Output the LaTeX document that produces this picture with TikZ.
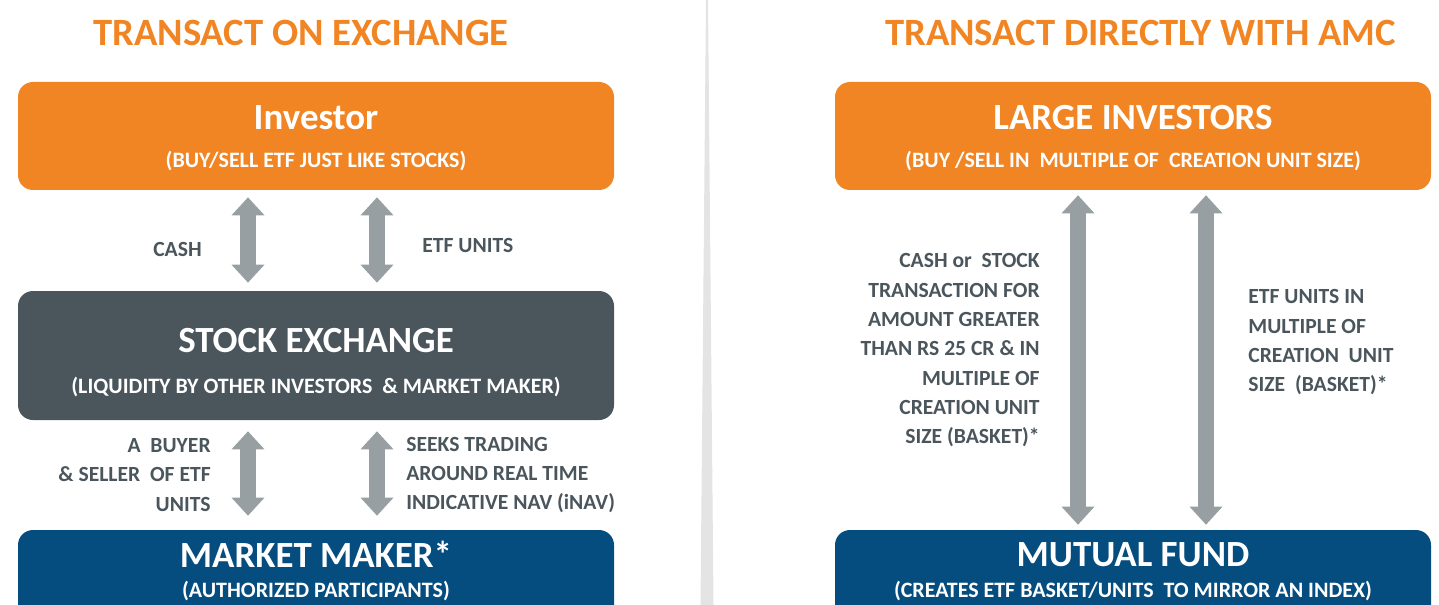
\documentclass[tikz,border=0pt]{standalone}
\usepackage{fontspec}
\setmainfont{Carlito}
\usetikzlibrary{arrows.meta,positioning}

\definecolor{etforange}{HTML}{F18523}
\definecolor{etfslate}{HTML}{4A555C}
\definecolor{etfblue}{HTML}{054D7F}
\definecolor{etfarrow}{HTML}{979FA2}
\definecolor{etfdivider}{HTML}{E4E4E4}

\tikzset{
  panel/.style={rounded corners=0.3cm, minimum width=11.92cm, inner sep=0pt},
  heading/.style={text=etforange, font=\fontsize{22}{26}\selectfont\bfseries},
  boxtitle/.style={text=white, font=\fontsize{21}{24}\selectfont\bfseries},
  boxsub/.style={text=white, font=\fontsize{12.5}{15}\selectfont\bfseries},
  flowlabel/.style={text=etfslate, inner sep=0pt, font=\fontsize{12.3}{16.7}\selectfont\bfseries},
  twoway/.style={draw=etfarrow, line width=0.32cm, {Triangle[width=0.66cm,length=0.36cm,line width=0pt]}-{Triangle[width=0.66cm,length=0.36cm,line width=0pt]}}
}

\begin{document}
\begin{tikzpicture}

\path[use as bounding box] (0,0) rectangle (28.78,-12.1);
\clip (0,0) rectangle (28.78,-12.1);

% Separation
\fill[etfdivider] (14.12,0) -- (14.16,0) -- (14.27,-12.1) -- (14.01,-12.1) -- cycle;

% Titres
\node[heading] (lefthead) at (6.02,-0.66) {TRANSACT ON EXCHANGE};
\node[heading] (righthead) at (22.81,-0.66) {TRANSACT DIRECTLY WITH AMC};

% Investor
\node[panel, fill=etforange, minimum height=2.16cm] (inv) at (6.32,-2.72) {};
\node[boxtitle] (invtitle) at ([yshift=-0.72cm]inv.north) {Investor};
\node[boxsub] (invsub) at ([yshift=-1.58cm]inv.north) {(BUY/SELL ETF JUST LIKE STOCKS)};

% Stock exchange
\node[panel, fill=etfslate, minimum height=2.58cm] (exch) at (6.32,-7.11) {};
\node[boxtitle] (exchtitle) at ([yshift=-1.0cm]exch.north) {STOCK EXCHANGE};
\node[boxsub] (exchsub) at ([yshift=-1.92cm]exch.north) {(LIQUIDITY BY OTHER INVESTORS \ \& MARKET MAKER)};

% Market maker
\node[panel, fill=etfblue, minimum height=2.0cm] (maker) at (6.32,-11.6) {};
\node[boxtitle] (makertitle) at ([yshift=-0.5cm]maker.north) {MARKET MAKER*};
\node[boxsub] (makersub) at ([yshift=-1.22cm]maker.north) {(AUTHORIZED PARTICIPANTS)};

% Large investors
\node[panel, fill=etforange, minimum height=2.16cm] (large) at (22.66,-2.72) {};
\node[boxtitle] (largetitle) at ([yshift=-0.72cm]large.north) {LARGE INVESTORS};
\node[boxsub] (largesub) at ([yshift=-1.58cm]large.north) {(BUY /SELL IN \ MULTIPLE OF \ CREATION UNIT SIZE)};

% Mutual fund
\node[panel, fill=etfblue, minimum height=2.0cm] (fund) at (22.66,-11.6) {};
\node[boxtitle] (fundtitle) at ([yshift=-0.5cm]fund.north) {MUTUAL FUND};
\node[boxsub] (fundsub) at ([yshift=-1.22cm]fund.north) {(CREATES ETF BASKET/UNITS \ TO MIRROR AN INDEX)};

% Fleches
\draw[twoway, shorten <=0.14cm, shorten >=0.16cm] ([xshift=-1.36cm]inv.south) -- ([xshift=-1.36cm]exch.north);
\draw[twoway, shorten <=0.14cm, shorten >=0.16cm] ([xshift=1.22cm]inv.south) -- ([xshift=1.22cm]exch.north);
\draw[twoway, shorten <=0.22cm, shorten >=0.28cm] ([xshift=-1.36cm]exch.south) -- ([xshift=-1.36cm]maker.north);
\draw[twoway, shorten <=0.22cm, shorten >=0.28cm] ([xshift=1.22cm]exch.south) -- ([xshift=1.22cm]maker.north);
\draw[twoway, shorten <=0.1cm, shorten >=0.1cm] ([xshift=-1.1cm]large.south) -- ([xshift=-1.1cm]fund.north);
\draw[twoway, shorten <=0.1cm, shorten >=0.1cm] ([xshift=1.46cm]large.south) -- ([xshift=1.46cm]fund.north);

% Textes des fleches
\node[flowlabel, anchor=east] (cash) at (4.04,-4.98) {CASH};
\node[flowlabel, anchor=west] (units) at (8.44,-4.9) {ETF UNITS};
\node[flowlabel, anchor=east, align=right] (buyer) at (4.22,-9.5) {A \ BUYER\\\& SELLER \ OF ETF\\UNITS};
\node[flowlabel, anchor=west, align=left] (seeks) at (8.12,-9.5) {SEEKS TRADING\\AROUND REAL TIME\\INDICATIVE NAV (iNAV)};
\node[flowlabel, anchor=east, align=right] (cashstock) at (20.8,-7.01) {CASH or \ STOCK\\TRANSACTION FOR\\AMOUNT GREATER\\THAN RS 25 CR \& IN\\MULTIPLE OF\\CREATION UNIT\\SIZE (BASKET)*};
\node[flowlabel, anchor=west, align=left] (basket) at (24.96,-6.85) {ETF UNITS IN\\MULTIPLE OF\\CREATION \ UNIT\\SIZE \ (BASKET)*};

\end{tikzpicture}
\end{document}
